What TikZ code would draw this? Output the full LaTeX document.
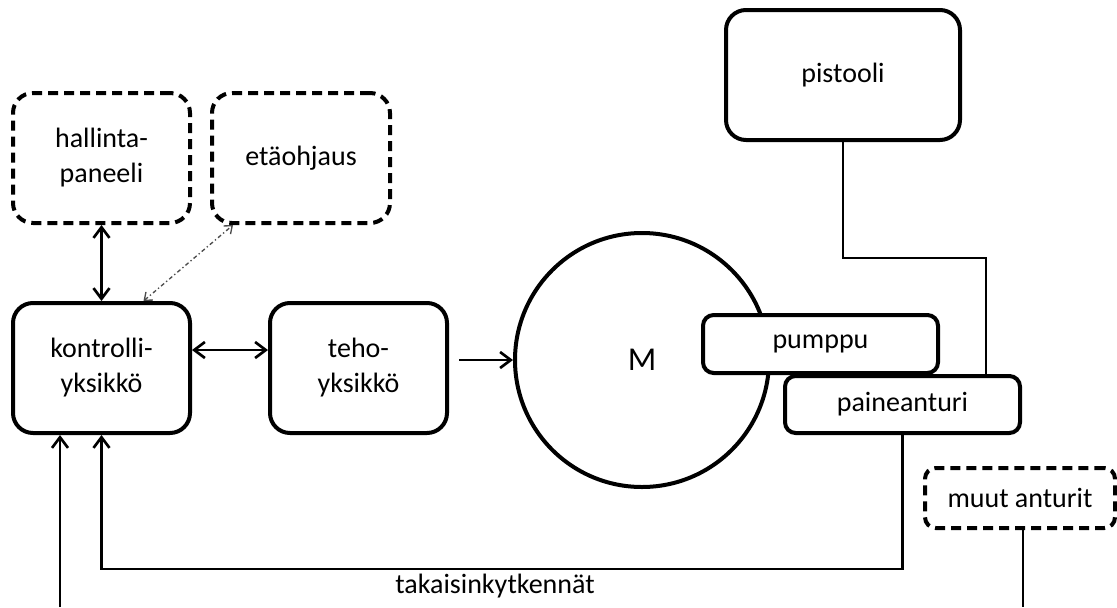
\documentclass[tikz,border=0pt]{standalone}
\usepackage{fontspec}
\setmainfont{Carlito}
\usetikzlibrary{arrows.meta,calc}
\begin{document}
\begin{tikzpicture}[x=0.75pt,y=-0.75pt,
  txt/.style={font=\fontsize{21pt}{26.25pt}\selectfont},
  sz/.style 2 args={minimum width=#1*0.75pt, minimum height=#2*0.75pt},
  box/.style={draw, line width=3pt, rounded corners=15pt, fill=white,
    align=center, inner sep=0pt, txt},
  smallbox/.style={box, rounded corners=8pt},
  dashedbox/.style={dash pattern=on 7.5pt off 4.5pt},
  wire/.style={line width=1.6pt},
  tip/.style={Straight Barb[length=8pt,width=12pt]},
  arr/.style={line width=2pt, -{Straight Barb[length=8pt,width=12pt]}},
  darr/.style={line width=2pt, {Straight Barb[length=8pt,width=12pt]}-{Straight Barb[length=8pt,width=12pt]}},
  remote/.style={line width=1pt, gray!60!black,
    dash pattern=on 3pt off 2pt on 1pt off 2pt,
    {Straight Barb[length=5pt,width=8pt]}-{Straight Barb[length=5pt,width=8pt]}}]

\useasboundingbox (0,0) rectangle (1117,607);

% operator side
\node[box, dashedbox, sz={177}{130}] (hal) at (101.5,158) {hallinta-\\paneeli};
\node[box, dashedbox, sz={178}{130}] (eta) at (301,158) {etäohjaus};

% control and power stages
\node[box, sz={177}{130}] (kon) at (101.5,368) {kontrolli-\\yksikkö};
\node[box, sz={177}{130}] (teho) at (358.5,368) {teho-\\yksikkö};

% motor with pump and pressure sensor on top of it
\node[draw, circle, line width=3pt, inner sep=0pt, minimum size=254*0.75pt,
  font=\fontsize{25pt}{30pt}\selectfont] (M) at (642,360) {M};
\node[smallbox, sz={235}{58}] (pum) at (820.5,344) {pumppu};
\node[smallbox, sz={235}{57}] (pai) at (902.5,404.5) {paineanturi};

% spray gun and other sensors
\node[box, sz={234}{130}] (pis) at (843,75) {pistooli};
\node[smallbox, dashedbox, sz={190}{60}] (muu) at (1020,498) {muut anturit};

% connections
\draw[darr] (hal.south) -- (hal.south |- kon.north);
\draw[remote] ($(kon.north)+(42,0)$) -- ($(eta.south west)+(23,0)$);
\draw[darr] ($(kon.east)+(0,-18)$) -- ($(teho.west)+(0,-18)$);
\draw[arr] ($(M.west -| teho.east)+(10,0)$) -- (M.west);
\draw[wire] (pis.south) -- ++(0,116) -| ($(pai.north east)+(-36,0)$);
\draw[arr] (pai.south) -- ++(0,134) -| (kon.south);
\node[txt] (fb) at (495,586) {takaisinkytkennät};

\coordinate (inL) at (60,607);
\draw[arr] (inL) -- (inL |- kon.south);
\coordinate (muuEnd) at (1023,607);
\draw[wire] (muuEnd |- muu.south) -- (muuEnd);
\end{tikzpicture}
\end{document}
